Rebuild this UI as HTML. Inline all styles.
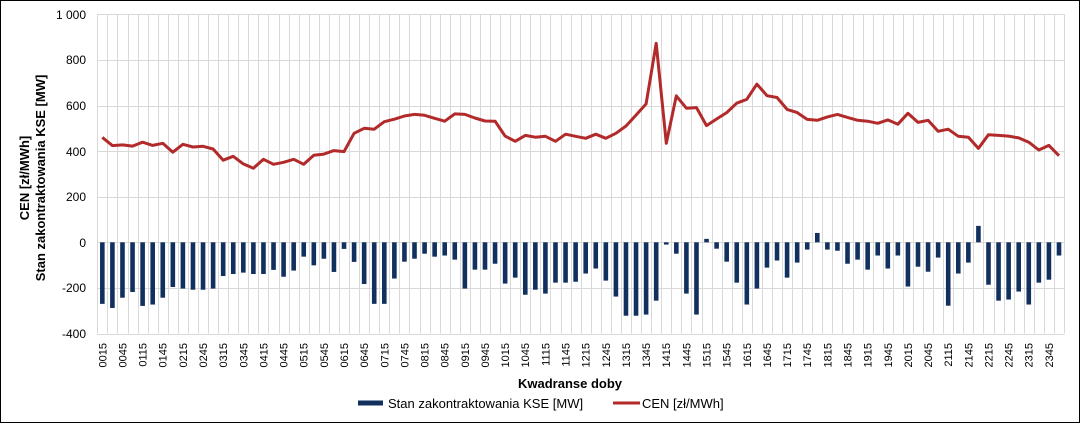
<!DOCTYPE html>
<html><head><meta charset="utf-8"><style>
html,body{margin:0;padding:0;background:#fff}
svg{display:block;font-family:"Liberation Sans",Arial,sans-serif}
</style></head><body>
<svg id="s" width="1080" height="424" viewBox="0 0 1080 424" xmlns="http://www.w3.org/2000/svg">
<rect x="0.5" y="0.5" width="1079" height="422" fill="#fff" stroke="#000" stroke-width="1"/>
<g id="grid" stroke="#d9d9d9" stroke-width="1"></g>
<g id="bars" fill="#12305e"></g>
<polyline id="line" fill="none" stroke="#b22a2a" stroke-width="3" stroke-linejoin="round"/>
<g font-size="12" text-anchor="end" fill="#000">
<text x="86" y="19">1 000</text><text x="86" y="64">800</text><text x="86" y="110">600</text>
<text x="86" y="156">400</text><text x="86" y="201">200</text><text x="86" y="247">0</text>
<text x="86" y="292">-200</text><text x="86" y="338">-400</text>
</g>
<g font-size="13" font-weight="bold" text-anchor="middle">
<text transform="translate(29,178) rotate(-90)">CEN  [zł/MWh]</text>
<text transform="translate(45,178) rotate(-90)">Stan zakontraktowania KSE [MW]</text>
<text x="570" y="388">Kwadranse doby</text>
</g>
<g font-size="11" text-anchor="end">
<text transform="translate(106.3,343) rotate(-90)">0015</text>
<text transform="translate(126.5,343) rotate(-90)">0045</text>
<text transform="translate(146.6,343) rotate(-90)">0115</text>
<text transform="translate(166.7,343) rotate(-90)">0145</text>
<text transform="translate(186.9,343) rotate(-90)">0215</text>
<text transform="translate(207.0,343) rotate(-90)">0245</text>
<text transform="translate(227.1,343) rotate(-90)">0315</text>
<text transform="translate(247.3,343) rotate(-90)">0345</text>
<text transform="translate(267.4,343) rotate(-90)">0415</text>
<text transform="translate(287.6,343) rotate(-90)">0445</text>
<text transform="translate(307.7,343) rotate(-90)">0515</text>
<text transform="translate(327.8,343) rotate(-90)">0545</text>
<text transform="translate(348.0,343) rotate(-90)">0615</text>
<text transform="translate(368.1,343) rotate(-90)">0645</text>
<text transform="translate(388.3,343) rotate(-90)">0715</text>
<text transform="translate(408.4,343) rotate(-90)">0745</text>
<text transform="translate(428.5,343) rotate(-90)">0815</text>
<text transform="translate(448.7,343) rotate(-90)">0845</text>
<text transform="translate(468.8,343) rotate(-90)">0915</text>
<text transform="translate(489.0,343) rotate(-90)">0945</text>
<text transform="translate(509.1,343) rotate(-90)">1015</text>
<text transform="translate(529.2,343) rotate(-90)">1045</text>
<text transform="translate(549.4,343) rotate(-90)">1115</text>
<text transform="translate(569.5,343) rotate(-90)">1145</text>
<text transform="translate(589.7,343) rotate(-90)">1215</text>
<text transform="translate(609.8,343) rotate(-90)">1245</text>
<text transform="translate(629.9,343) rotate(-90)">1315</text>
<text transform="translate(650.1,343) rotate(-90)">1345</text>
<text transform="translate(670.2,343) rotate(-90)">1415</text>
<text transform="translate(690.4,343) rotate(-90)">1445</text>
<text transform="translate(710.5,343) rotate(-90)">1515</text>
<text transform="translate(730.6,343) rotate(-90)">1545</text>
<text transform="translate(750.8,343) rotate(-90)">1615</text>
<text transform="translate(770.9,343) rotate(-90)">1645</text>
<text transform="translate(791.1,343) rotate(-90)">1715</text>
<text transform="translate(811.2,343) rotate(-90)">1745</text>
<text transform="translate(831.3,343) rotate(-90)">1815</text>
<text transform="translate(851.5,343) rotate(-90)">1845</text>
<text transform="translate(871.6,343) rotate(-90)">1915</text>
<text transform="translate(891.8,343) rotate(-90)">1945</text>
<text transform="translate(911.9,343) rotate(-90)">2015</text>
<text transform="translate(932.0,343) rotate(-90)">2045</text>
<text transform="translate(952.2,343) rotate(-90)">2115</text>
<text transform="translate(972.3,343) rotate(-90)">2145</text>
<text transform="translate(992.5,343) rotate(-90)">2215</text>
<text transform="translate(1012.6,343) rotate(-90)">2245</text>
<text transform="translate(1032.7,343) rotate(-90)">2315</text>
<text transform="translate(1052.9,343) rotate(-90)">2345</text>
</g>
<rect x="358" y="400.5" width="25" height="5" fill="#12305e"/>
<text x="388" y="408" font-size="13">Stan zakontraktowania KSE [MW]</text>
<line x1="613" y1="403" x2="640" y2="403" stroke="#b22a2a" stroke-width="3"/>
<text x="642" y="408" font-size="13">CEN [zł/MWh]</text>
</svg>
<script>
var L=[460,424,427,422,439,425,434,395,430,418,421,409,360,377,344,325,364,342,351,364,342,382,387,402,398,478,500,496,529,540,554,561,557,544,531,563,561,545,532,531,466,443,469,461,465,443,474,465,456,474,456,478,510,558,607,873,434,642,588,591,512,541,569,610,627,694,643,635,583,569,539,535,550,561,548,535,531,522,537,518,566,526,535,487,496,465,461,412,472,469,466,458,439,405,425,380];
var B=[-270,-288,-243,-218,-279,-273,-243,-196,-203,-208,-208,-203,-148,-139,-133,-139,-139,-121,-151,-124,-63,-101,-72,-130,-29,-86,-183,-270,-270,-159,-85,-72,-50,-63,-58,-76,-203,-120,-120,-94,-181,-155,-230,-208,-225,-177,-177,-173,-137,-115,-168,-238,-322,-322,-317,-256,-10,-50,-225,-317,15,-28,-85,-177,-273,-203,-111,-80,-155,-89,-32,41,-32,-37,-94,-76,-120,-58,-115,-58,-194,-107,-129,-67,-278,-137,-89,72,-186,-256,-251,-216,-273,-177,-164,-58];
var ns="http://www.w3.org/2000/svg",x0=97.3,w=10.07,y0=242.3,k=0.228;
var g=document.getElementById('grid'),b=document.getElementById('bars');
function el(p,t,a){var e=document.createElementNS(ns,t);for(var q in a)e.setAttribute(q,a[q]);p.appendChild(e);}
for(var i=0;i<=96;i++){var x=Math.round(x0+w*i)+0.5;el(g,'line',{x1:x,x2:x,y1:14,y2:333.5});}
for(var v=-400;v<=1000;v+=200){var y=Math.round(y0-v*k)+0.5;el(g,'line',{x1:97,x2:1064.5,y1:y,y2:y});}
var pts=[];
for(var i=0;i<96;i++){var c=x0+w*(i+0.5);var h=B[i]*k;
el(b,'rect',{x:c-2.3,width:4.6,y:h<0?y0:y0-h,height:Math.abs(h)});
pts.push(c.toFixed(1)+','+(y0-L[i]*k).toFixed(1));}
document.getElementById('line').setAttribute('points',pts.join(' '));
</script>
</body></html>
